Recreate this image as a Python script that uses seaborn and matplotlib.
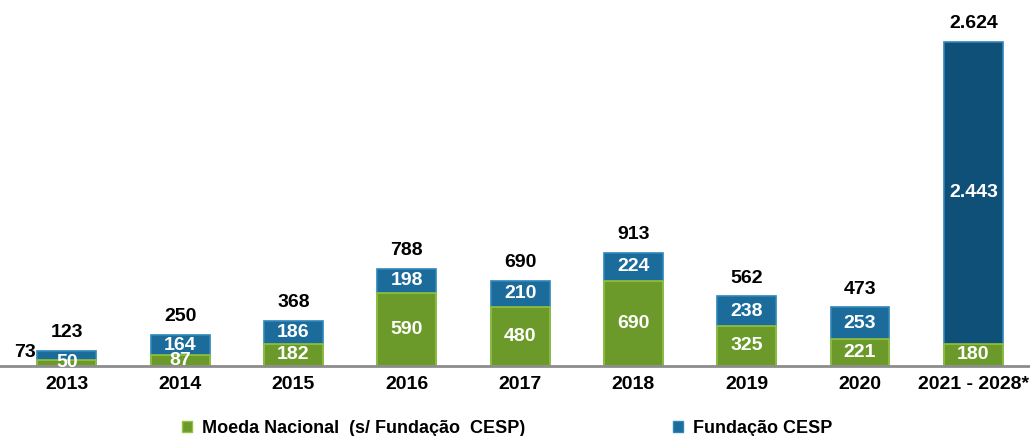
import numpy as np
import pandas as pd
import seaborn as sns
import matplotlib.pyplot as plt
from matplotlib.patches import Patch

anos = ['2013', '2014', '2015', '2016', '2017', '2018', '2019', '2020', '2021 - 2028*']
moeda = [50, 87, 182, 590, 480, 690, 325, 221, 180]
fcesp = [73, 164, 186, 198, 210, 224, 238, 253, 2443]
totais = [123, 250, 368, 788, 690, 913, 562, 473, 2624]

verde = '#6b9a2b'
azul = '#1b6b9b'

def fmt(v):
    return f'{v:,}'.replace(',', '.')

sns.set_theme(style='white')
plt.rcParams['font.family'] = ['Liberation Sans', 'DejaVu Sans']

df = pd.DataFrame({'ano': anos, 'moeda': moeda, 'fcesp': fcesp})
df['pilha'] = df['moeda'] + df['fcesp']

fig = plt.figure(figsize=(10.3, 4.36), dpi=100)
ax = fig.add_axes([0, 1 - 366 / 436, 1, 366 / 436])

sns.barplot(data=df, x='ano', y='pilha', color=azul, width=0.52, ax=ax,
            edgecolor='#2f86b8', linewidth=1.2, saturation=1)
sns.barplot(data=df, x='ano', y='moeda', color=verde, width=0.52, ax=ax,
            edgecolor='#93c23c', linewidth=1.2, saturation=1)
# barra grande mais escura
ax.patches[8].set_facecolor('#0f5078')

ax.set_xlim(-0.59, 8.5)
ax.set_ylim(0, 2964)
ax.set_xlabel('')
ax.set_ylabel('')
ax.set_yticks([])
for s in ['top', 'left', 'right']:
    ax.spines[s].set_visible(False)
ax.spines['bottom'].set_color('#8c8c8c')
ax.spines['bottom'].set_linewidth(2)
ax.tick_params(axis='x', length=0, pad=7)
for lab in ax.get_xticklabels():
    lab.set_fontweight('bold')
    lab.set_fontsize(14)
    lab.set_color('black')

for i in range(len(anos)):
    m = moeda[i]
    f = fcesp[i]
    ax.text(i, m / 2, fmt(m), ha='center', va='center', color='white',
            fontsize=14, fontweight='bold', clip_on=False)
    if i == 0:
        ax.text(i - 0.27, m + f * 0.8, fmt(f), ha='right', va='center', color='black',
                fontsize=14, fontweight='bold')
    else:
        ax.text(i, m + f / 2, fmt(f), ha='center', va='center', color='white',
                fontsize=14, fontweight='bold')
    ax.annotate(fmt(totais[i]), (i, m + f), xytext=(0, 7), textcoords='offset points',
                ha='center', va='bottom', fontsize=14, fontweight='bold', color='black')

handles = [Patch(facecolor=verde, edgecolor='#93c23c'),
           Patch(facecolor=azul, edgecolor='#2f86b8')]
fig.legend(handles, ['Moeda Nacional  (s/ Fundação  CESP)', 'Fundação CESP'],
           loc='center left', bbox_to_anchor=(166 / 1030, 1 - 428 / 436), ncol=2,
           frameon=False, handlelength=0.55, handleheight=0.55, handletextpad=0.55,
           columnspacing=8.2, labelcolor='black', prop={'weight': 'bold', 'size': 13})

fig.savefig('out.png', dpi=100)
